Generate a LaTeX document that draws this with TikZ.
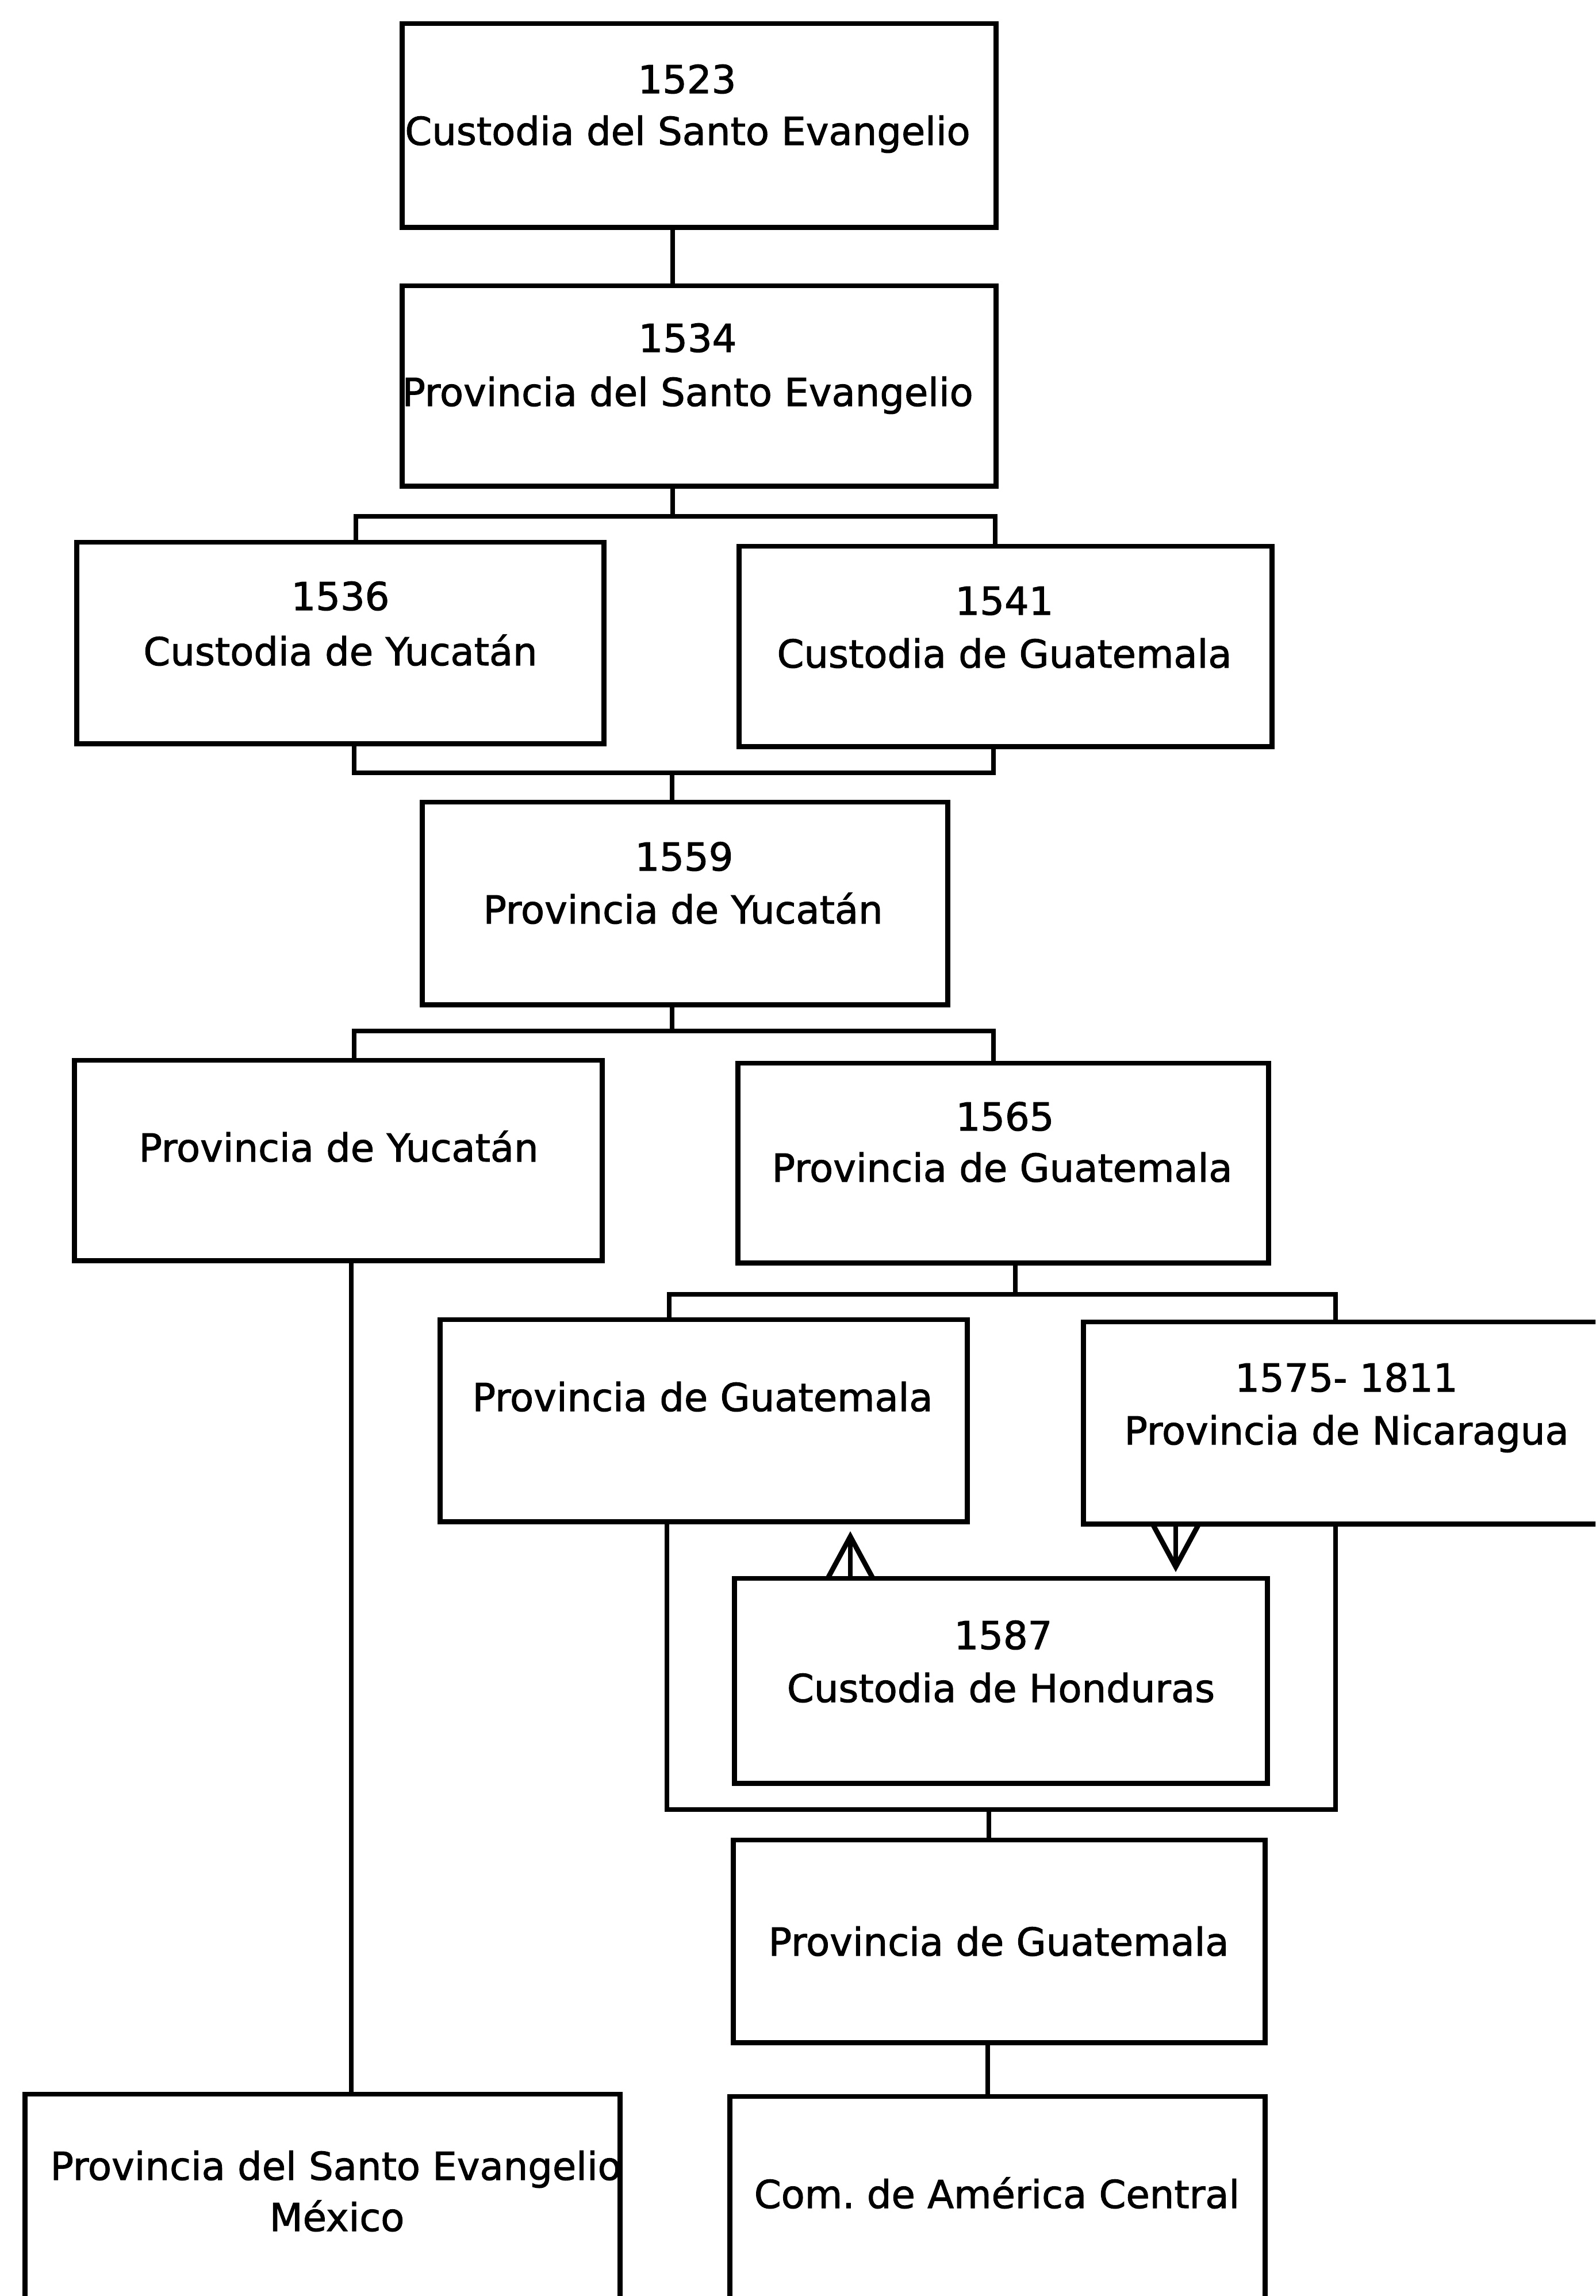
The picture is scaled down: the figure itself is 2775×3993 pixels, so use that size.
\documentclass[tikz,border=0pt]{standalone}
\usepackage{fontspec}
\setmainfont{DejaVu Sans}[UprightFeatures={FakeBold=1.5}]
\usetikzlibrary{arrows.meta}
\frenchspacing
\begin{document}
\begin{tikzpicture}[x=0.01cm,y=-0.01cm,
  font=\fontsize{19.1pt}{25.6pt}\selectfont,
  box/.style={draw,line width=2.5pt,rectangle,inner sep=0pt,fill=none},
  txt/.style={anchor=base,inner sep=0pt},
  conn/.style={line width=2.5pt},
  arr/.style={line width=2.5pt,-{Straight Barb[length=0.74cm,width=0.80cm]}}]
\useasboundingbox (0,0) rectangle (2775,3993);
\clip (0,0) rectangle (2775,3993);
\fill[white] (0,0) rectangle (2775,3993);
% boxes
\node[box,minimum width=10.32cm,minimum height=3.54cm] (b1) at (1216,218) {};
\node[box,minimum width=10.32cm,minimum height=3.48cm] (b2) at (1216,671) {};
\node[box,minimum width=9.16cm,minimum height=3.50cm] (b3) at (592,1118) {};
\node[box,minimum width=9.26cm,minimum height=3.48cm] (b4) at (1749,1124) {};
\node[box,minimum width=9.13cm,minimum height=3.52cm] (b5) at (1191.5,1571) {};
\node[box,minimum width=9.17cm,minimum height=3.48cm] (b6) at (588.5,2018) {};
\node[box,minimum width=9.22cm,minimum height=3.47cm] (b7) at (1745,2022.5) {};
\node[box,minimum width=9.16cm,minimum height=3.51cm] (b8) at (1224,2470.5) {};
\node[box,minimum width=9.15cm,minimum height=3.51cm] (b9) at (2342.5,2474.5) {};
\node[box,minimum width=9.26cm,minimum height=3.56cm] (b10) at (1741,2923) {};
\node[box,minimum width=9.24cm,minimum height=3.52cm] (b11) at (1738,3376) {};
\node[box,minimum width=10.34cm,minimum height=4.08cm] (b12) at (561,3846) {};
\node[box,minimum width=9.30cm,minimum height=4.04cm] (b13) at (1735,3848) {};
% texts
\node[txt] (t1a) at (1195,162) {1523};
\node[txt] (t1b) at (1196,252) {Custodia del Santo Evangelio};
\node[txt] (t2a) at (1196,612) {1534};
\node[txt] (t2b) at (1196,706) {Provincia del Santo Evangelio};
\node[txt] (t3a) at (592,1061) {1536};
\node[txt] (t3b) at (592,1157) {Custodia de Yucatán};
\node[txt] (t4a) at (1747,1069) {1541};
\node[txt] (t4b) at (1747,1161) {Custodia de Guatemala};
\node[txt] (t5a) at (1190,1514) {1559};
\node[txt] (t5b) at (1188,1606) {Provincia de Yucatán};
\node[txt] (t6) at (589,2020) {Provincia de Yucatán};
\node[txt] (t7a) at (1748,1966) {1565};
\node[txt] (t7b) at (1743,2055) {Provincia de Guatemala};
\node[txt] (t8) at (1222,2454) {Provincia de Guatemala};
\node[txt] (t9a) at (2342,2420) {1575- 1811};
\node[txt] (t9b) at (2342,2512) {Provincia de Nicaragua};
\node[txt] (t10a) at (1745,2868) {1587};
\node[txt] (t10b) at (1741,2960) {Custodia de Honduras};
\node[txt] (t11) at (1737,3401) {Provincia de Guatemala};
\node[txt] (t12a) at (584,3791) {Provincia del Santo Evangelio};
\node[txt] (t12b) at (586,3880) {México};
\node[txt] (t13) at (1734,3840) {Com. de América Central};
% junction coordinates
\coordinate (ja) at (1170,898);
\coordinate (jal) at (619,898);
\coordinate (jar) at (1731,898);
\coordinate (jb) at (1169,1344);
\coordinate (jbl) at (616,1344);
\coordinate (jbr) at (1728,1344);
\coordinate (jc) at (1169,1793);
\coordinate (jcl) at (616,1793);
\coordinate (jcr) at (1728,1793);
\coordinate (xm) at (611,0);
\coordinate (jd) at (1766,2251);
\coordinate (jdl) at (1164,2251);
\coordinate (jdr) at (2323,2251);
\coordinate (je) at (1720,3147);
\coordinate (jel) at (1160,3147);
\coordinate (jer) at (2323,3147);
\coordinate (xf) at (1718,0);
\coordinate (tipup) at (1479,2663);
\coordinate (tipdn) at (2045,2734);
% connectors
\draw[conn] (b1.south -| ja) -- (b2.north -| ja);
\draw[conn] (b2.south -| ja) -- (ja);
\draw[conn] (b3.north -| jal) -- (jal) -- (jar) -- (b4.north -| jar);
\draw[conn] (b3.south -| jbl) -- (jbl) -- (jbr) -- (b4.south -| jbr);
\draw[conn] (jb) -- (b5.north -| jb);
\draw[conn] (b5.south -| jc) -- (jc);
\draw[conn] (b6.north -| jcl) -- (jcl) -- (jcr) -- (b7.north -| jcr);
\draw[conn] (b6.south -| xm) -- (b12.north -| xm);
\draw[conn] (b7.south -| jd) -- (jd);
\draw[conn] (b8.north -| jdl) -- (jdl) -- (jdr) -- (b9.north -| jdr);
\draw[conn] (b8.south -| jel) -- (jel) -- (jer) -- (b9.south -| jer);
\draw[conn] (je) -- (b11.north -| je);
\draw[conn] (b11.south -| xf) -- (b13.north -| xf);
\draw[arr] (b10.north -| tipup) -- (tipup);
\draw[arr] (b9.south -| tipdn) -- (tipdn);
\end{tikzpicture}
\end{document}
